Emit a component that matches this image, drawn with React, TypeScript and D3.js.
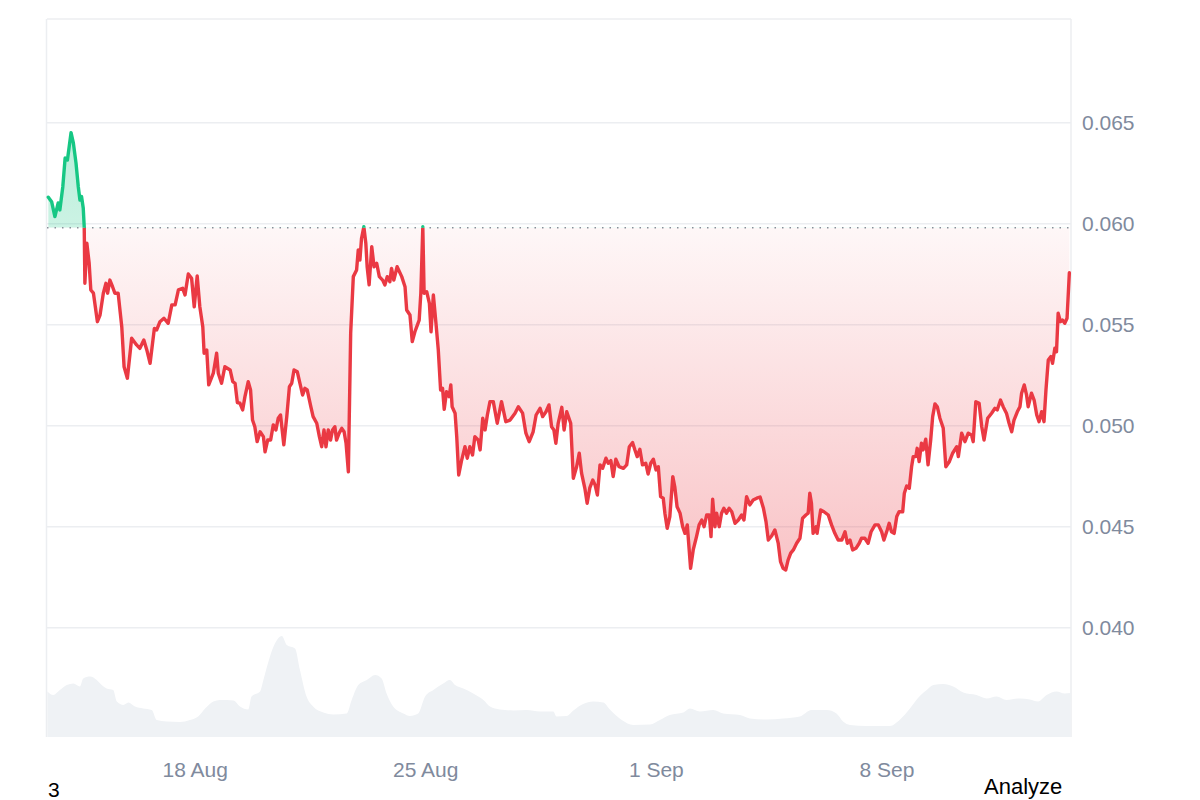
import React from "react";
import * as d3 from "d3";

// Time is expressed as "day of August 2025" (1 Sep = 32).
const priceDays = [
  13.54, 13.64, 13.74, 13.84, 13.89, 13.98, 14.05, 14.12, 14.23, 14.30, 14.38, 14.45, 14.50, 14.55, 14.60, 14.63,
  14.65, 14.71, 14.78, 14.83, 14.91, 15.03, 15.11, 15.21, 15.29, 15.34, 15.41, 15.49, 15.56, 15.66, 15.77, 15.84,
  15.94, 16.07, 16.22, 16.32, 16.44, 16.53, 16.63, 16.76, 16.83, 16.93, 17.05, 17.18, 17.29, 17.39, 17.49, 17.62,
  17.69, 17.79, 17.89, 17.97, 18.06, 18.14, 18.23, 18.27, 18.35, 18.41, 18.55, 18.65, 18.70, 18.80, 18.90, 19.06,
  19.14, 19.21, 19.28, 19.36, 19.44, 19.51, 19.61, 19.68, 19.74, 19.81, 19.88, 19.97, 20.07, 20.12, 20.20, 20.29,
  20.37, 20.45, 20.52, 20.59, 20.69, 20.78, 20.86, 20.93, 21.00, 21.10, 21.18, 21.26, 21.33, 21.40, 21.51, 21.58,
  21.69, 21.77, 21.84, 21.91, 21.97, 22.04, 22.11, 22.17, 22.24, 22.29, 22.37, 22.45, 22.52, 22.58, 22.65, 22.72,
  22.80, 22.90, 22.95, 23.00, 23.05, 23.12, 23.18, 23.22, 23.28, 23.36, 23.43, 23.51, 23.59, 23.69, 23.76, 23.83,
  23.91, 23.96, 24.03, 24.13, 24.27, 24.37, 24.42, 24.52, 24.59, 24.67, 24.80, 24.85, 24.91, 24.95, 25.03, 25.11,
  25.16, 25.23, 25.31, 25.38, 25.45, 25.51, 25.56, 25.63, 25.71, 25.76, 25.80, 25.89, 25.94, 26.00, 26.09, 26.19,
  26.26, 26.34, 26.42, 26.49, 26.59, 26.65, 26.73, 26.80, 26.87, 26.95, 27.05, 27.17, 27.30, 27.43, 27.56, 27.71,
  27.81, 27.94, 28.04, 28.14, 28.26, 28.35, 28.47, 28.55, 28.65, 28.74, 28.82, 28.89, 28.95, 29.02, 29.13, 29.20,
  29.28, 29.40, 29.48, 29.58, 29.66, 29.73, 29.83, 29.90, 29.98, 30.07, 30.14, 30.21, 30.29, 30.37, 30.47, 30.54,
  30.62, 30.69, 30.77, 30.87, 31.00, 31.10, 31.18, 31.28, 31.35, 31.42, 31.50, 31.58, 31.68, 31.75, 31.83, 31.91,
  31.99, 32.06, 32.13, 32.21, 32.26, 32.33, 32.41, 32.50, 32.56, 32.63, 32.72, 32.80, 32.87, 32.94, 33.04, 33.12,
  33.22, 33.30, 33.38, 33.45, 33.53, 33.61, 33.66, 33.71, 33.78, 33.83, 33.91, 33.98, 34.05, 34.13, 34.21, 34.29,
  34.39, 34.49, 34.59, 34.66, 34.74, 34.84, 34.94, 35.05, 35.15, 35.25, 35.33, 35.40, 35.50, 35.60, 35.70, 35.77,
  35.85, 35.93, 36.00, 36.08, 36.16, 36.26, 36.36, 36.44, 36.54, 36.61, 36.66, 36.71, 36.76, 36.85, 36.88, 36.99,
  37.09, 37.22, 37.32, 37.42, 37.52, 37.63, 37.73, 37.80, 37.88, 37.96, 38.06, 38.16, 38.23, 38.33, 38.43, 38.52,
  38.64, 38.74, 38.84, 38.91, 39.01, 39.07, 39.14, 39.22, 39.30, 39.37, 39.48, 39.53, 39.60, 39.68, 39.75, 39.80,
  39.88, 39.92, 39.98, 40.05, 40.10, 40.18, 40.25, 40.33, 40.39, 40.46, 40.53, 40.61, 40.71, 40.79, 40.89, 41.00,
  41.12, 41.17, 41.27, 41.37, 41.47, 41.57, 41.62, 41.70, 41.80, 41.88, 41.95, 42.06, 42.18, 42.28, 42.35, 42.45,
  42.53, 42.63, 42.71, 42.79, 42.86, 42.96, 43.04, 43.09, 43.17, 43.24, 43.29, 43.39, 43.47, 43.55, 43.62, 43.70,
  43.77, 43.83, 43.90, 43.98, 44.03, 44.10, 44.15, 44.20, 44.27, 44.33, 44.40, 44.47, 44.54,
];

const prices = [
  0.06131, 0.06109, 0.06035, 0.06103, 0.06068, 0.06183, 0.06325, 0.06315, 0.06451, 0.06400, 0.06301, 0.06183, 0.06117, 0.06134, 0.06078, 0.05985,
  0.05705, 0.05903, 0.05804, 0.05672, 0.05656, 0.05515, 0.05548, 0.05656, 0.05705, 0.05656, 0.05721, 0.05688, 0.05656, 0.05656, 0.05490, 0.05292,
  0.05235, 0.05433, 0.05400, 0.05383, 0.05424, 0.05375, 0.05309, 0.05482, 0.05474, 0.05515, 0.05532, 0.05507, 0.05598, 0.05598, 0.05672, 0.05680,
  0.05647, 0.05751, 0.05730, 0.05589, 0.05741, 0.05589, 0.05490, 0.05359, 0.05375, 0.05202, 0.05260, 0.05359, 0.05260, 0.05210, 0.05292, 0.05276,
  0.05218, 0.05210, 0.05114, 0.05111, 0.05078, 0.05144, 0.05218, 0.05177, 0.05028, 0.04995, 0.04921, 0.04970, 0.04946, 0.04871, 0.04929, 0.04929,
  0.05004, 0.04979, 0.05037, 0.05053, 0.04905, 0.05045, 0.05193, 0.05210, 0.05276, 0.05267, 0.05210, 0.05152, 0.05185, 0.05177, 0.05094, 0.05045,
  0.05012, 0.04946, 0.04896, 0.04979, 0.04896, 0.04979, 0.04929, 0.04979, 0.04995, 0.04929, 0.04963, 0.04987, 0.04970, 0.04913, 0.04772, 0.05458,
  0.05738, 0.05771, 0.05870, 0.05820, 0.05928, 0.05985, 0.05903, 0.05787, 0.05697, 0.05886, 0.05787, 0.05804, 0.05738, 0.05721, 0.05697, 0.05738,
  0.05713, 0.05779, 0.05721, 0.05787, 0.05738, 0.05688, 0.05573, 0.05548, 0.05416, 0.05465, 0.05523, 0.05656, 0.05985, 0.05656, 0.05663, 0.05606,
  0.05465, 0.05647, 0.05507, 0.05375, 0.05177, 0.05185, 0.05081, 0.05168, 0.05144, 0.05202, 0.05094, 0.05062, 0.04946, 0.04756, 0.04830, 0.04896,
  0.04839, 0.04896, 0.04855, 0.04946, 0.04929, 0.04880, 0.05037, 0.04979, 0.05053, 0.05119, 0.05119, 0.05012, 0.05119, 0.05020, 0.05028, 0.05062,
  0.05094, 0.05062, 0.04963, 0.04921, 0.04970, 0.05053, 0.05086, 0.05045, 0.05069, 0.05103, 0.04995, 0.04979, 0.04913, 0.05012, 0.05091, 0.04979,
  0.05069, 0.05012, 0.04740, 0.04797, 0.04864, 0.04765, 0.04690, 0.04616, 0.04692, 0.04731, 0.04707, 0.04657, 0.04806, 0.04789, 0.04839, 0.04814,
  0.04827, 0.04748, 0.04834, 0.04797, 0.04789, 0.04806, 0.04896, 0.04916, 0.04880, 0.04847, 0.04883, 0.04806, 0.04814, 0.04761, 0.04814, 0.04834,
  0.04781, 0.04797, 0.04649, 0.04641, 0.04567, 0.04492, 0.04550, 0.04748, 0.04698, 0.04599, 0.04567, 0.04500, 0.04467, 0.04509, 0.04294, 0.04385,
  0.04451, 0.04509, 0.04533, 0.04500, 0.04558, 0.04558, 0.04451, 0.04636, 0.04500, 0.04567, 0.04500, 0.04567, 0.04591, 0.04567, 0.04591, 0.04574,
  0.04517, 0.04533, 0.04558, 0.04533, 0.04649, 0.04608, 0.04632, 0.04641, 0.04647, 0.04593, 0.04525, 0.04434, 0.04454, 0.04484, 0.04419, 0.04327,
  0.04294, 0.04286, 0.04335, 0.04369, 0.04385, 0.04418, 0.04443, 0.04542, 0.04558, 0.04567, 0.04666, 0.04616, 0.04467, 0.04500, 0.04467, 0.04583,
  0.04574, 0.04558, 0.04509, 0.04467, 0.04434, 0.04434, 0.04475, 0.04418, 0.04434, 0.04385, 0.04393, 0.04418, 0.04443, 0.04443, 0.04418, 0.04475,
  0.04509, 0.04509, 0.04475, 0.04434, 0.04484, 0.04517, 0.04475, 0.04467, 0.04550, 0.04574, 0.04574, 0.04666, 0.04702, 0.04690, 0.04797, 0.04847,
  0.04847, 0.04888, 0.04822, 0.04913, 0.04880, 0.04933, 0.04806, 0.04929, 0.05045, 0.05108, 0.05094, 0.05037, 0.04989, 0.04797, 0.04820, 0.04865,
  0.04896, 0.04847, 0.04963, 0.04921, 0.04963, 0.04954, 0.04921, 0.05119, 0.05111, 0.04995, 0.04929, 0.05037, 0.05062, 0.05086, 0.05078, 0.05127,
  0.05094, 0.05062, 0.05012, 0.04970, 0.05028, 0.05069, 0.05094, 0.05161, 0.05202, 0.05152, 0.05094, 0.05161, 0.05127, 0.05053, 0.05020, 0.05069,
  0.05020, 0.05177, 0.05325, 0.05342, 0.05309, 0.05383, 0.05366, 0.05557, 0.05515, 0.05523, 0.05507, 0.05532, 0.05757,
];

const volumeDays = [
  13.51, 13.69, 13.89, 14.10, 14.30, 14.50, 14.60, 14.81, 15.01, 15.16, 15.31, 15.51, 15.62, 15.82, 15.97, 16.17,
  16.42, 16.68, 16.83, 17.13, 17.54, 17.84, 18.09, 18.30, 18.55, 18.75, 19.16, 19.36, 19.61, 19.71, 19.97, 20.07,
  20.27, 20.42, 20.63, 20.78, 21.03, 21.18, 21.38, 21.58, 21.89, 22.19, 22.60, 22.75, 22.95, 23.21, 23.46, 23.66,
  23.81, 24.01, 24.32, 24.52, 24.77, 24.98, 25.23, 25.53, 25.73, 25.89, 26.14, 26.44, 26.75, 26.95, 27.25, 27.66,
  28.06, 28.47, 28.87, 28.97, 29.28, 29.48, 29.78, 30.08, 30.39, 30.59, 30.95, 31.30, 31.81, 32.11, 32.41, 32.82,
  33.02, 33.32, 33.73, 34.03, 34.54, 34.84, 35.35, 35.85, 36.36, 36.71, 37.17, 37.47, 37.67, 37.88, 38.38, 39.09,
  39.40, 39.70, 40.00, 40.21, 40.41, 40.71, 41.01, 41.32, 41.72, 42.03, 42.33, 42.63, 43.04, 43.34, 43.59, 43.85,
  44.15, 44.40, 44.58,
];

// 24h volume, millions
const volumes = [
  0.91, 0.84, 0.94, 1.04, 1.07, 1.01, 1.17, 1.21, 1.14, 1.04, 0.97, 0.94, 0.71, 0.64, 0.69, 0.61,
  0.57, 0.54, 0.34, 0.31, 0.30, 0.34, 0.41, 0.57, 0.71, 0.74, 0.73, 0.61, 0.55, 0.81, 0.91, 1.14,
  1.61, 1.87, 2.02, 1.84, 1.77, 1.34, 0.81, 0.61, 0.49, 0.45, 0.47, 0.74, 1.04, 1.14, 1.24, 1.17,
  0.87, 0.61, 0.47, 0.42, 0.47, 0.81, 0.94, 1.07, 1.14, 1.04, 0.97, 0.87, 0.74, 0.61, 0.55, 0.53,
  0.54, 0.51, 0.51, 0.41, 0.42, 0.53, 0.66, 0.71, 0.69, 0.55, 0.34, 0.24, 0.25, 0.34, 0.44, 0.49,
  0.57, 0.51, 0.54, 0.47, 0.44, 0.37, 0.35, 0.37, 0.41, 0.54, 0.54, 0.47, 0.31, 0.24, 0.22, 0.22,
  0.35, 0.57, 0.82, 0.94, 1.04, 1.06, 1.01, 0.89, 0.84, 0.77, 0.81, 0.74, 0.77, 0.75, 0.71, 0.84,
  0.91, 0.87, 0.88,
];

const startDay = 13.5;
const endDay = 44.59;
const baselinePrice = 0.0598;
const yTickValues = [0.04, 0.045, 0.05, 0.055, 0.06, 0.065];
const xTickDays = [18, 25, 32, 39];

const dayToDate = (d: number) => new Date(Date.UTC(2025, 7, 1) + (d - 1) * 864e5);

export default function App() {
  const W = 1200;
  const H = 800;
  const left = 47;
  const right = 1071;
  const top = 19;
  const bottom = 737;

  const x = d3.scaleUtc().domain([dayToDate(startDay), dayToDate(endDay)]).range([left, right]);
  const y = d3.scaleLinear().domain([0.04, 0.065]).range([627.7, 122.7]);
  const yVol = d3.scaleLinear().domain([0, 2.2]).range([bottom, 627]);

  const pts = priceDays.map((d, i) => ({ t: dayToDate(d), v: prices[i] }));
  const vpts = volumeDays.map((d, i) => ({ t: dayToDate(d), v: volumes[i] }));
  const yBase = y(baselinePrice);

  const line = d3.line<{ t: Date; v: number }>().x((p) => x(p.t)).y((p) => y(p.v));
  const area = d3
    .area<{ t: Date; v: number }>()
    .x((p) => x(p.t))
    .y0(yBase)
    .y1((p) => y(p.v));
  const volArea = d3
    .area<{ t: Date; v: number }>()
    .x((p) => x(p.t))
    .y0(bottom)
    .y1((p) => yVol(p.v))
    .curve(d3.curveMonotoneX);

  const fmt = d3.utcFormat("%-d %b");
  const font = "'Liberation Sans', Arial, Helvetica, sans-serif";
  const minY = y(d3.min(prices) as number);

  return (
    <svg
      width={W}
      height={H}
      style={{ position: "absolute", left: 0, top: 0, background: "#fff" }}
    >
      <defs>
        <clipPath id="above">
          <rect x={0} y={0} width={W} height={yBase} />
        </clipPath>
        <clipPath id="below">
          <rect x={0} y={yBase} width={W} height={H - yBase} />
        </clipPath>
        <linearGradient id="redFill" gradientUnits="userSpaceOnUse" x1={0} y1={yBase} x2={0} y2={minY}>
          <stop offset="0" stopColor="#ea3943" stopOpacity={0.04} />
          <stop offset="1" stopColor="#ea3943" stopOpacity={0.3} />
        </linearGradient>
        <linearGradient id="greenFill" gradientUnits="userSpaceOnUse" x1={0} y1={y(0.0645)} x2={0} y2={yBase}>
          <stop offset="0" stopColor="#16c784" stopOpacity={0.3} />
          <stop offset="1" stopColor="#16c784" stopOpacity={0.22} />
        </linearGradient>
      </defs>

      {/* frame */}
      <line x1={left} x2={right} y1={top} y2={top} stroke="#eceef1" strokeWidth={1.5} />
      <line x1={left - 0.5} x2={left - 0.5} y1={top} y2={bottom} stroke="#eceef1" strokeWidth={1.5} />
      <line x1={right} x2={right} y1={top} y2={bottom} stroke="#eceef1" strokeWidth={1.5} />

      {/* grid */}
      {yTickValues.map((v) => (
        <line key={v} x1={left} x2={right} y1={y(v)} y2={y(v)} stroke="#eceef1" strokeWidth={1.5} />
      ))}

      {/* volume */}
      <path d={volArea(vpts) || ""} fill="#eff2f5" />

      {/* fills */}
      <path d={area(pts) || ""} fill="url(#redFill)" clipPath="url(#below)" />
      <path d={area(pts) || ""} fill="url(#greenFill)" clipPath="url(#above)" />

      {/* baseline */}
      <line
        x1={left}
        x2={right}
        y1={yBase}
        y2={yBase}
        stroke="#8a8f99"
        strokeWidth={1.5}
        strokeDasharray="1.5 6"
      />

      {/* price line */}
      <path
        d={line(pts) || ""}
        fill="none"
        stroke="#ea3943"
        strokeWidth={3.4}
        strokeLinejoin="round"
        strokeLinecap="round"
        clipPath="url(#below)"
      />
      <path
        d={line(pts) || ""}
        fill="none"
        stroke="#16c784"
        strokeWidth={3.4}
        strokeLinejoin="round"
        strokeLinecap="round"
        clipPath="url(#above)"
      />

      {/* y axis labels */}
      {yTickValues.map((v) => (
        <text
          key={v}
          x={1082}
          y={y(v)}
          dy="0.36em"
          fontSize={21}
          fontFamily={font}
          fill="#808a9d"
        >
          {v.toFixed(3)}
        </text>
      ))}

      {/* x axis labels */}
      {xTickDays.map((d) => (
        <text
          key={d}
          x={x(dayToDate(d))}
          y={777}
          textAnchor="middle"
          fontSize={21}
          fontFamily={font}
          fill="#808a9d"
        >
          {fmt(dayToDate(d))}
        </text>
      ))}

      {/* page texts below the chart */}
      <text x={48} y={797} fontSize={21} fontFamily={font} fill="#000">
        3
      </text>
      <text x={984} y={794} fontSize={22} fontFamily={font} fill="#000">
        Analyze
      </text>
    </svg>
  );
}
